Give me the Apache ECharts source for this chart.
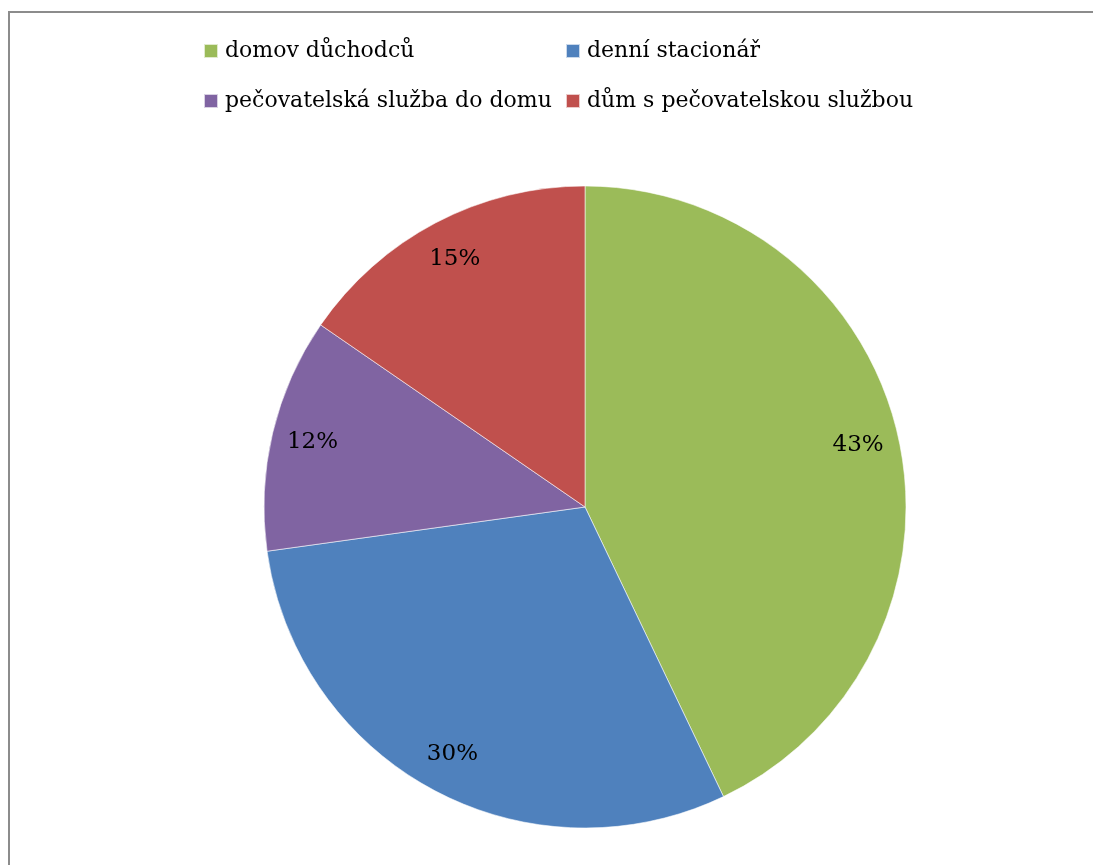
<!DOCTYPE html>
<html>
<head>
<meta charset="utf-8">
<script src="https://cdn.jsdelivr.net/npm/echarts@6/dist/echarts.min.js"></script>
<style>
html,body{margin:0;padding:0;background:#fff;}
#chart{width:1093px;height:865px;}
</style>
</head>
<body>
<div id="chart"></div>
<script>
const categories = ['domov důchodců', 'denní stacionář', 'pečovatelská služba do domu', 'dům s pečovatelskou službou'];
const values = [42.9, 29.9, 11.8, 15.4];
const colors = ['#9BBB59', '#4F81BD', '#8064A2', '#C0504D'];

const font = '"DejaVu Serif", "Liberation Serif", serif';
const data = categories.map((name, i) => ({ name, value: values[i], itemStyle: { color: colors[i] } }));

const legendBase = {
  orient: 'vertical', top: 40, padding: 0,
  icon: 'rect', itemWidth: 14, itemHeight: 14, itemGap: 28,
  textStyle: { fontFamily: font, fontSize: 22, color: '#000', padding: [0, 0, 0, 2] },
  selectedMode: false
};

const chart = echarts.init(document.getElementById('chart'));
chart.setOption({
  animation: false,
  backgroundColor: '#fff',
  graphic: [
    { type: 'line', shape: { x1: 9, y1: 12, x2: 9, y2: 865 }, style: { stroke: '#8c8c8c', lineWidth: 2 } },
    { type: 'line', shape: { x1: 8, y1: 12, x2: 1093, y2: 12 }, style: { stroke: '#8c8c8c', lineWidth: 2 } }
  ],
  legend: [
    Object.assign({}, legendBase, { left: 203, data: [categories[0], categories[2]] }),
    Object.assign({}, legendBase, { left: 565, data: [categories[1], categories[3]] })
  ],
  series: [
    {
      type: 'pie',
      center: [585, 507],
      radius: [0, 321],
      startAngle: 90,
      clockwise: true,
      data: data,
      label: { show: false },
      labelLine: { show: false },
      itemStyle: { borderColor: 'rgba(255,255,255,0.7)', borderWidth: 0.8 },
      silent: true
    },
    {
      type: 'pie',
      center: [585, 507],
      radius: [233, 321],
      startAngle: 90,
      clockwise: true,
      data: categories.map((name, i) => ({ name: name + ' ', value: values[i], itemStyle: { color: 'rgba(0,0,0,0)' } })),
      label: {
        show: true, position: 'inside',
        formatter: p => Math.round(p.percent) + '%',
        fontFamily: font, fontSize: 23, color: '#000'
      },
      labelLine: { show: false },
      silent: true
    }
  ]
});
</script>
</body>
</html>
